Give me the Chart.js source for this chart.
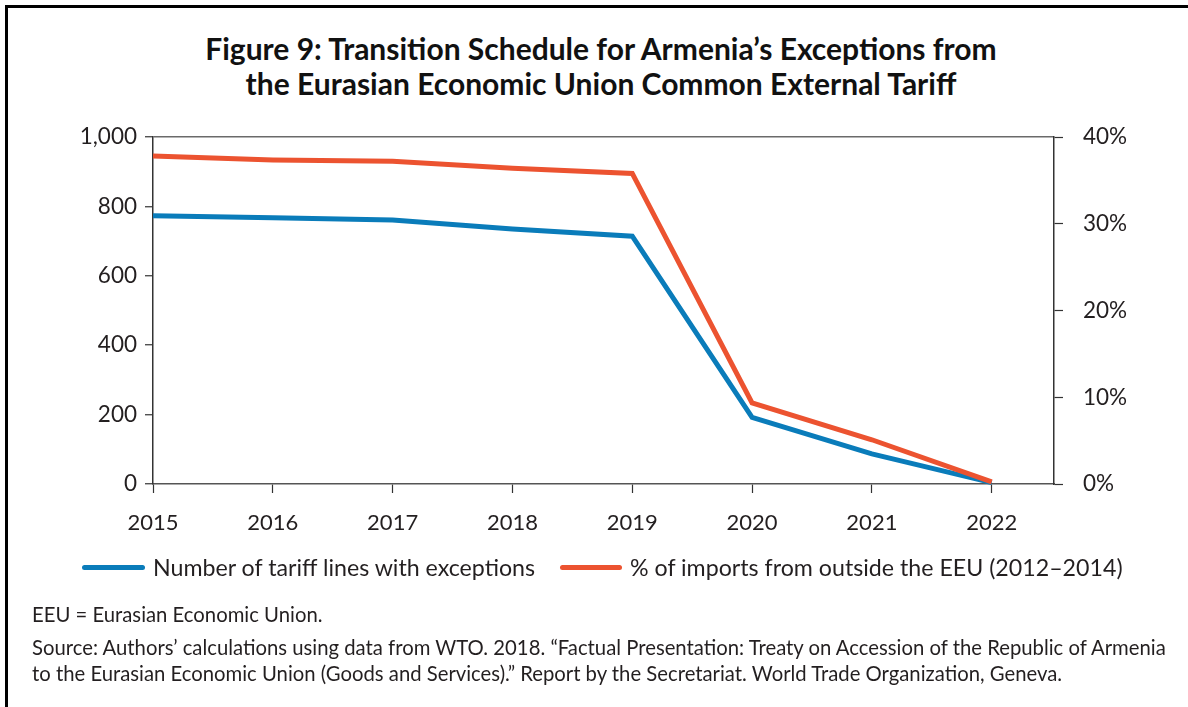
<!DOCTYPE html>
<html>
<head>
<meta charset="utf-8">
<script src="https://cdn.jsdelivr.net/npm/chart.js@4.4.1/dist/chart.umd.min.js"></script>
<style>
  html, body { margin: 0; padding: 0; background: #fff; }
  body { width: 1188px; height: 707px; position: relative; overflow: hidden; font-family: Lato, "Noto Sans", sans-serif; color: #231f20; }
  #frame { position: absolute; left: 5px; top: 5px; width: 1300px; height: 800px; border-left: 3px solid #000; border-top: 3px solid #000; }
  #title { position: absolute; left: 0; width: 1202px; top: 30.5px; text-align: center; font-weight: 700; font-size: 30px; line-height: 35px; color: #111; }
  #chart { position: absolute; left: 0; top: 0; }
  .leg { position: absolute; top: 553px; font-size: 23.2px; line-height: 28px; white-space: nowrap; }
  .legline { position: absolute; height: 5px; border-radius: 3px; top: 565px; }
  .note { position: absolute; left: 32px; font-size: 20.3px; white-space: nowrap; line-height: 25.5px; }
</style>
</head>
<body>
<div id="frame"></div>
<div id="title">Figure 9: Transition Schedule for Armenia’s Exceptions from<br>the Eurasian Economic Union Common External Tariff</div>
<canvas id="chart" width="1188" height="707"></canvas>
<div id="legend"></div>
<div class="note" style="top:602px">EEU = Eurasian Economic Union.</div>
<div class="note" style="top:635px">Source: Authors’ calculations using data from WTO. 2018. “Factual Presentation: Treaty on Accession of the Republic of Armenia<br>to the Eurasian Economic Union (Goods and Services).” Report by the Secretariat. World Trade Organization, Geneva.</div>
<script>
const years = [2015, 2016, 2017, 2018, 2019, 2020, 2021, 2022];
const tariffLines = [773, 767, 761, 735, 714, 192, 87, 4];
const importShare = [37.8, 37.35, 37.2, 36.4, 35.8, 9.35, 5.1, 0.25];
const leftTicks = [0, 200, 400, 600, 800, 1000];
const rightTicks = [0, 10, 20, 30, 40];
const seriesLabels = ['Number of tariff lines with exceptions', '% of imports from outside the EEU (2012–2014)'];
const seriesColors = ['#0a7cba', '#ec5330'];

const legend = document.getElementById('legend');
const legPos = [[82, 153], [560, 630]];
seriesLabels.forEach((lab, i) => {
  const ln = document.createElement('div');
  ln.className = 'legline';
  ln.style.left = legPos[i][0] + 'px';
  ln.style.width = (legPos[i][1] - legPos[i][0] - 8) + 'px';
  ln.style.background = seriesColors[i];
  legend.appendChild(ln);
  const t = document.createElement('div');
  t.className = 'leg';
  t.style.left = legPos[i][1] + 'px';
  t.textContent = lab;
  legend.appendChild(t);
});

const fam = 'Lato, "Noto Sans", sans-serif';
new Chart(document.getElementById('chart'), {
  type: 'line',
  data: {
    datasets: [
      { label: seriesLabels[0], data: years.map((y, i) => ({ x: y, y: tariffLines[i] })), yAxisID: 'y',
        borderColor: seriesColors[0], borderWidth: 5, pointRadius: 0, tension: 0, order: 1, clip: false },
      { label: seriesLabels[1], data: years.map((y, i) => ({ x: y, y: importShare[i] })), yAxisID: 'y1',
        borderColor: seriesColors[1], borderWidth: 5, pointRadius: 0, tension: 0, order: 0, clip: false }
    ]
  },
  options: {
    responsive: false,
    animation: false,
    layout: { padding: { left: 0, right: 0, top: 137, bottom: 0 } },
    plugins: { legend: { display: false }, title: { display: false }, tooltip: { enabled: false } },
    scales: {
      x: {
        type: 'linear', min: 2015, max: 2022.52,
        afterBuildTicks: s => { s.ticks = years.map(v => ({ value: v })); },
        afterFit: s => { s.height = 707 - 484; },
        ticks: { font: { family: fam, size: 22 }, color: '#231f20', padding: 17, callback: v => String(v), maxRotation: 0, autoSkip: false },
        grid: { drawOnChartArea: false, tickLength: 9, tickColor: '#333', tickWidth: 1.2 },
        border: { color: '#555', width: 1.5 }
      },
      y: {
        position: 'left', min: 0, max: 1000,
        afterBuildTicks: s => { s.ticks = leftTicks.map(v => ({ value: v })); },
        afterFit: s => { s.width = 153; },
        ticks: { font: { family: fam, size: 22.5 }, color: '#231f20', padding: 8, callback: v => v.toLocaleString('en-US') },
        grid: { color: c => (c.tick && c.tick.value === 1000) ? '#6a6a6a' : 'rgba(0,0,0,0)', lineWidth: 1.5,
                tickLength: 8, tickColor: '#333', tickWidth: 1.2 },
        border: { color: '#333', width: 1.5 }
      },
      y1: {
        position: 'right', min: 0, max: 40,
        afterBuildTicks: s => { s.ticks = rightTicks.map(v => ({ value: v })); },
        afterFit: s => { s.width = 1188 - 1054; },
        ticks: { font: { family: fam, size: 22.5 }, color: '#231f20', padding: 20, callback: v => v + '%' },
        grid: { drawOnChartArea: false, tickLength: 9, tickColor: '#333', tickWidth: 1.2 },
        border: { color: '#333', width: 1.5 }
      }
    }
  }
});
</script>
</body>
</html>
